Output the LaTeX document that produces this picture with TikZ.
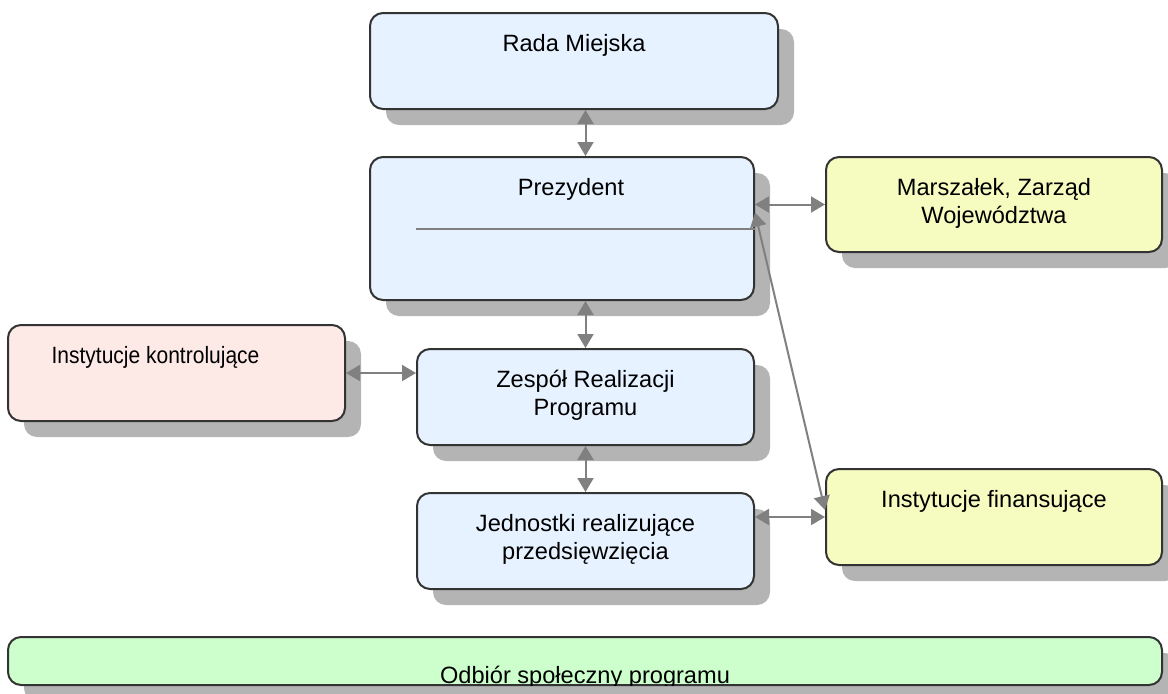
\documentclass[tikz,border=0pt]{standalone}
\usepackage{fontspec}
\setmainfont{Liberation Sans}
\usetikzlibrary{arrows.meta,shadows}

\definecolor{niebieski}{RGB}{230,242,255}
\definecolor{rozowy}{RGB}{253,234,231}
\definecolor{zolty}{RGB}{246,251,192}
\definecolor{zielony}{RGB}{204,255,204}
\definecolor{szary}{RGB}{128,128,128}
\definecolor{cien}{RGB}{180,180,180}

\tikzset{
  blok/.style={draw=black!80, line width=1pt, rounded corners=6.5pt, inner sep=0pt,
    drop shadow={shadow xshift=8pt, shadow yshift=-8pt, fill=cien, opacity=1}},
  napis/.style={anchor=base, yshift=#1, align=center, inner sep=0pt,
    font=\fontsize{11.8}{14}\selectfont},
  napis/.default=-19.5pt,
  strzalka/.style={{Triangle[length=7pt,width=8pt]}-{Triangle[length=7pt,width=8pt]},
    draw=szary, line width=1pt},
  linia/.style={draw=szary, line width=1pt}
}

\begin{document}
\begin{tikzpicture}[x=0.5pt, y=-0.5pt]
    \useasboundingbox (0,0) rectangle (1168,693);

    % boxes (two-line texts sit on the last line's baseline)
    \node[blok, fill=niebieski, minimum width=204pt, minimum height=48pt,
      label={[napis]north:Rada Miejska}] (rada) at (574,61) {};
    \node[blok, fill=niebieski, minimum width=192pt, minimum height=71.5pt,
      label={[napis, xshift=4.5pt]north:Prezydent}] (prez) at (562,228.5) {};
    \node[blok, fill=zolty, minimum width=168pt, minimum height=47.5pt,
      label={[napis=-33.5pt]north:{Marszałek, Zarząd\\Województwa}}] (marsz) at (994,204.5) {};
    \node[blok, fill=rozowy, minimum width=168.5pt, minimum height=48pt,
      label={[napis, xshift=-10.5pt]north:\scalebox{0.89}[1]{Instytucje kontrolujące}}] (kontr) at (176.5,373) {};
    \node[blok, fill=niebieski, minimum width=168.5pt, minimum height=48pt,
      label={[napis=-33.5pt]north:{Zespół Realizacji\\Programu}}] (zespol) at (585.5,397) {};
    \node[blok, fill=niebieski, minimum width=168.5pt, minimum height=48pt,
      label={[napis=-33.5pt]north:{Jednostki realizujące\\przedsięwzięcia}}] (jedn) at (585.5,541) {};
    \node[blok, fill=zolty, minimum width=168pt, minimum height=48pt,
      label={[napis]north:Instytucje finansujące}] (finans) at (994,517) {};
    \node[blok, fill=zielony, minimum width=577pt, minimum height=24pt] (odbior) at (585,661) {};
    \begin{scope}
      \clip ([yshift=0.5pt]odbior.south west) rectangle (odbior.north east);
      \node[napis=-23.5pt] (odbiortxt) at (odbior.north) {Odbiór społeczny programu};
    \end{scope}

    % connectors
    \draw[linia] (prez.east -| zespol.west) -- (prez.east);
    \draw[strzalka] (rada.south -| zespol.north) -- (prez.north -| zespol.north);
    \draw[strzalka] (prez.south -| zespol.north) -- (zespol.north);
    \draw[strzalka] (zespol.south) -- (jedn.north);
    \draw[strzalka] (prez.east |- marsz.west) -- (marsz.west);
    \draw[strzalka] (kontr.east) -- (kontr.east -| zespol.west);
    \draw[strzalka] (jedn.east |- finans.west) -- (finans.west);
    \draw[strzalka] ([yshift=8pt]prez.east) -- ([yshift=3.5pt]finans.west);
\end{tikzpicture}
\end{document}
